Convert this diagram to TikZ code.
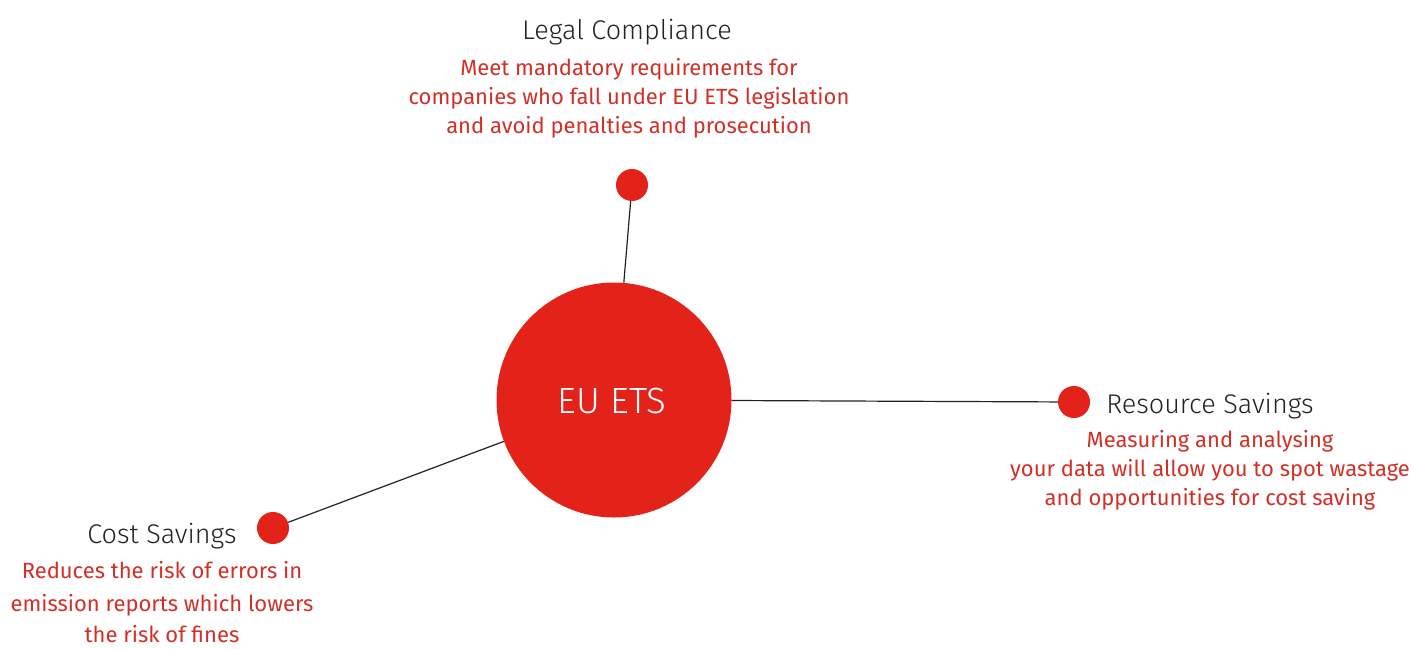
\documentclass[tikz,border=0pt]{standalone}
\usepackage{fontspec}
\setmainfont{Fira Sans}
\newfontfamily\lightfont{Fira Sans Light}
\definecolor{dotred}{HTML}{E3231A}
\definecolor{txtred}{HTML}{D22F27}
\definecolor{ink}{HTML}{222222}
\begin{document}
\begin{tikzpicture}[x=1pt,y=-1pt,
  bigdot/.style={circle,fill=dotred,minimum size=235pt,inner sep=0pt},
  smalldot/.style={circle,fill=dotred,minimum size=32pt,inner sep=0pt},
  link/.style={draw=ink,line width=1.2pt},
  headtxt/.style={anchor=base,inner sep=0pt,text=ink,font=\lightfont\fontsize{27}{30}\selectfont},
  bodytxt/.style={anchor=base,inner sep=0pt,text=txtred,font=\fontsize{22}{28}\selectfont}]
\useasboundingbox (0,0) rectangle (1413,648);
\node[bigdot] (main) at (614,400) {};
\node[anchor=base,text=white,font=\lightfont\fontsize{36.5}{40}\selectfont] (mainlbl) at (612,413) {EU ETS};
\node[smalldot] (dtop) at (632,185) {};
\node[smalldot] (dright) at (1074,402) {};
\node[smalldot] (dleft) at (273,528) {};
\draw[link] (dtop) -- (main);
\draw[link] (dright) -- (main);
\draw[link] (dleft) -- (main);
% Legal compliance
\node[headtxt] (h1) at (627,39) {Legal Compliance};
\node[bodytxt] (t1a) at (629,75) {Meet mandatory requirements for};
\node[bodytxt] (t1b) at (629,104) {companies who fall under EU ETS legislation};
\node[bodytxt] (t1c) at (629,133) {and avoid penalties and prosecution};
% Resource savings
\node[headtxt] (h2) at (1210,413) {Resource Savings};
\node[bodytxt] (t2a) at (1210,447) {Measuring and analysing};
\node[bodytxt] (t2b) at (1210,476) {your data will allow you to spot wastage};
\node[bodytxt] (t2c) at (1210,505) {and opportunities for cost saving};
% Cost savings
\node[headtxt] (h3) at (162,543) {Cost Savings};
\node[bodytxt] (t3a) at (162,578) {Reduces the risk of errors in};
\node[bodytxt] (t3b) at (162,611) {emission reports which lowers};
\node[bodytxt] (t3c) at (162,642) {the risk of fines};
\end{tikzpicture}
\end{document}
